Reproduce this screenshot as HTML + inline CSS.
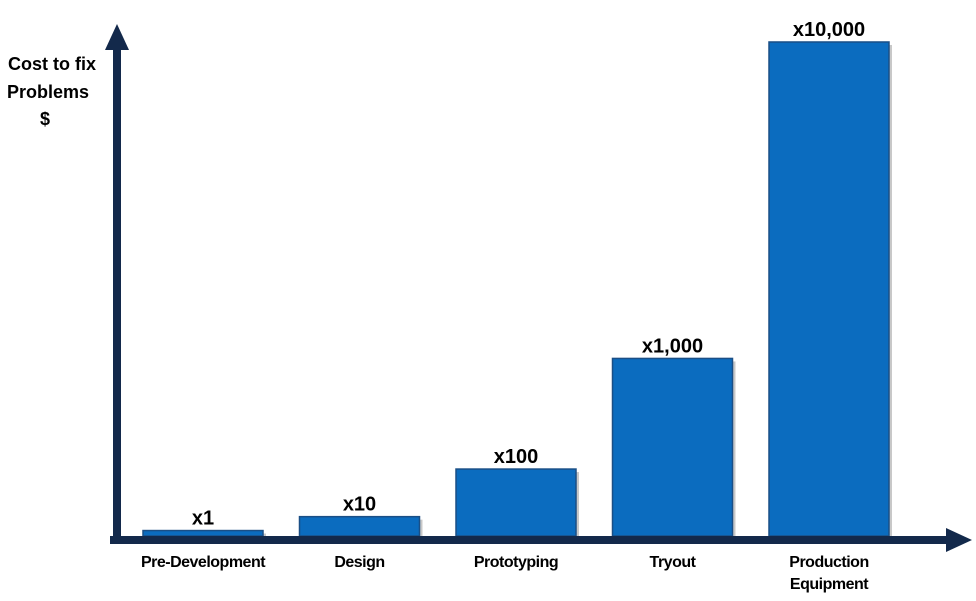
<!DOCTYPE html>
<html><head><meta charset="utf-8"><style>
html,body{margin:0;padding:0;background:#fff;}
svg{display:block;font-family:"Liberation Sans",sans-serif;}
</style></head><body>
<svg id="chart" width="976" height="601" viewBox="0 0 976 601">
<g id="bars"></g>
<g id="axes">
  <rect x="113" y="45" width="8" height="499" fill="#13294b"/>
  <polygon points="117,24 105,50 129,50" fill="#13294b"/>
  <rect x="110" y="536" width="840" height="8" fill="#13294b"/>
  <polygon points="972,540 946,528 946,552" fill="#13294b"/>
</g>
<g font-weight="bold" font-size="18" fill="#000" text-anchor="middle">
  <text x="52" y="70">Cost to fix</text>
  <text x="48" y="98">Problems</text>
  <text x="45" y="125">$</text>
</g>
<g id="labels"></g>
</svg>
<script>
const categories = ["Pre-Development","Design","Prototyping","Tryout","Production Equipment"];
const barHeights = [1.1, 3.9, 13.5, 35.8, 99.6];
const valueLabels = ["x1","x10","x100","x1,000","x10,000"];
const NS="http://www.w3.org/2000/svg";
const baseY=536, plotH=496;
const yScale=v=>baseY - v/100*plotH;
const x0=143, step=156.5, bw=120;
const xScale=i=>x0+i*step;
const bars=document.getElementById('bars'), labels=document.getElementById('labels');
categories.forEach((c,i)=>{
  const x=xScale(i), y=yScale(barHeights[i]);
  const sh=document.createElementNS(NS,'rect');
  sh.setAttribute('x',x+3);sh.setAttribute('y',y+3);sh.setAttribute('width',bw);sh.setAttribute('height',baseY-y);
  sh.setAttribute('fill','#c8c8c8');
  
  
  bars.appendChild(sh);
  const r=document.createElementNS(NS,'rect');
  r.setAttribute('x',x);r.setAttribute('y',y);r.setAttribute('width',bw);r.setAttribute('height',baseY-y);
  r.setAttribute('fill','#0b6cbf');r.setAttribute('stroke','#1a4f86');r.setAttribute('stroke-width','1.5');
  
  
  bars.appendChild(r);
  const t=document.createElementNS(NS,'text');
  t.setAttribute('x',x+bw/2);t.setAttribute('y',y-6);
  t.setAttribute('text-anchor','middle');t.setAttribute('font-weight','bold');t.setAttribute('font-size','20');
  t.textContent=valueLabels[i];
  
  
  bars.appendChild(t);
  const words=c==="Production Equipment"?["Production","Equipment"]:[c];
  words.forEach((w,k)=>{
    const l=document.createElementNS(NS,'text');
    l.setAttribute('x',x+bw/2);l.setAttribute('y',567+k*22);
    l.setAttribute('text-anchor','middle');l.setAttribute('font-weight','bold');l.setAttribute('font-size','16');
    l.setAttribute('letter-spacing','-0.5');
    l.textContent=w;
    
    
    labels.appendChild(l);
  });
});
</script>
</body></html>
